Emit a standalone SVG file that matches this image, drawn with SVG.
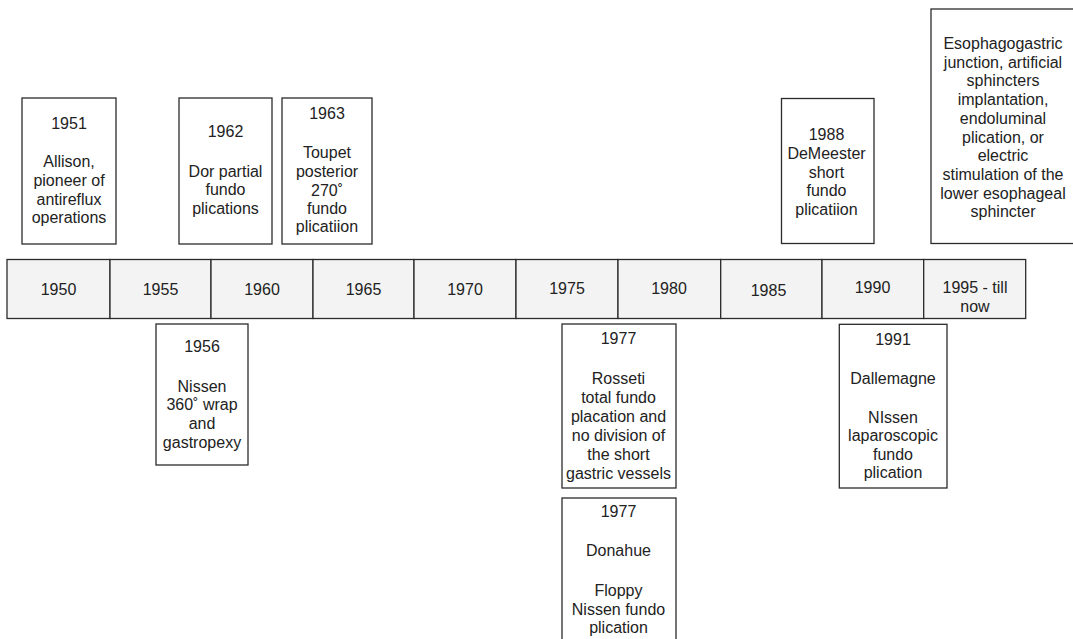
<svg xmlns="http://www.w3.org/2000/svg" width="1073" height="639" viewBox="0 0 1073 639">
  <style>
    .box { fill: #ffffff; stroke: #2b2b2b; stroke-width: 1.3; }
    .cell { fill: #f2f3f2; stroke: #2b2b2b; stroke-width: 1.3; }
    text { font-family: "Liberation Sans", Arial, Helvetica, sans-serif; font-size: 16px; fill: #222222; text-anchor: middle; }
  </style>
  <rect width="1073" height="639" fill="#ffffff"/>

  <!-- Timeline bar: ten five-year cells -->
  <g id="timeline">
    <g id="y1950"><rect class="cell" x="7" y="259.5" width="103" height="59"/><text x="58.5" y="294.5">1950</text></g>
    <g id="y1955"><rect class="cell" x="110" y="259.5" width="101" height="59"/><text x="160.5" y="294.5">1955</text></g>
    <g id="y1960"><rect class="cell" x="211" y="259.5" width="102" height="59"/><text x="262" y="294.5">1960</text></g>
    <g id="y1965"><rect class="cell" x="313" y="259.5" width="101" height="59"/><text x="363.5" y="294.5">1965</text></g>
    <g id="y1970"><rect class="cell" x="414" y="259.5" width="102" height="59"/><text x="465" y="294.5">1970</text></g>
    <g id="y1975"><rect class="cell" x="516" y="259.5" width="102" height="59"/><text x="567" y="294">1975</text></g>
    <g id="y1980"><rect class="cell" x="618" y="259.5" width="102.7" height="59"/><text x="669" y="293.5">1980</text></g>
    <g id="y1985"><rect class="cell" x="720.7" y="259.5" width="101.3" height="59"/><text x="768.5" y="295.5">1985</text></g>
    <g id="y1990"><rect class="cell" x="822" y="259.5" width="101.7" height="59"/><text x="872.5" y="293">1990</text></g>
    <g id="y1995"><rect class="cell" x="923.7" y="259.5" width="102" height="59"/><text x="975" y="293">1995 - till</text><text x="975" y="312">now</text></g>
  </g>

  <!-- Events above the bar -->
  <g id="e1951">
    <rect class="box" x="22" y="98" width="94" height="146"/>
    <text x="69" y="128.5">1951</text>
    <text x="69" y="167">Allison,</text>
    <text x="69" y="186">pioneer of</text>
    <text x="69" y="204.5">antireflux</text>
    <text x="69" y="223">operations</text>
  </g>
  <g id="e1962">
    <rect class="box" x="179" y="98" width="93" height="146"/>
    <text x="225.5" y="137">1962</text>
    <text x="225.5" y="176.5">Dor partial</text>
    <text x="225.5" y="195">fundo</text>
    <text x="225.5" y="214">plications</text>
  </g>
  <g id="e1963">
    <rect class="box" x="282" y="98" width="90" height="146"/>
    <text x="327" y="119.3">1963</text>
    <text x="327" y="158.3">Toupet</text>
    <text x="327" y="177">posterior</text>
    <text x="327" y="195.5">270˚</text>
    <text x="327" y="214">fundo</text>
    <text x="327" y="232">plicatiion</text>
  </g>
  <g id="e1988">
    <rect class="box" x="781.5" y="98.5" width="92.5" height="145"/>
    <text x="826.5" y="140">1988</text>
    <text x="826.5" y="159">DeMeester</text>
    <text x="826.5" y="177.5">short</text>
    <text x="826.5" y="196">fundo</text>
    <text x="826.5" y="214.5">plicatiion</text>
  </g>
  <g id="e1995">
    <rect class="box" x="931" y="9" width="145" height="234.5"/>
    <text x="1003" y="49">Esophagogastric</text>
    <text x="1003" y="67.7">junction, artificial</text>
    <text x="1003" y="86.4">sphincters</text>
    <text x="1003" y="105.1">implantation,</text>
    <text x="1003" y="123.8">endoluminal</text>
    <text x="1003" y="142.5">plication, or</text>
    <text x="1003" y="161.2">electric</text>
    <text x="1003" y="179.9">stimulation of the</text>
    <text x="1003" y="198.6">lower esophageal</text>
    <text x="1003" y="217.3">sphincter</text>
  </g>

  <!-- Events below the bar -->
  <g id="e1956">
    <rect class="box" x="156" y="324" width="92" height="141"/>
    <text x="202" y="352">1956</text>
    <text x="202" y="391.5">Nissen</text>
    <text x="202" y="410">360˚ wrap</text>
    <text x="202" y="429">and</text>
    <text x="202" y="447.5">gastropexy</text>
  </g>
  <g id="e1977a">
    <rect class="box" x="562" y="324" width="114" height="164"/>
    <text x="618.5" y="344.3">1977</text>
    <text x="618.5" y="384">Rosseti</text>
    <text x="618.5" y="403">total fundo</text>
    <text x="618.5" y="422">placation and</text>
    <text x="618.5" y="441">no division of</text>
    <text x="618.5" y="460">the short</text>
    <text x="618.5" y="479">gastric vessels</text>
  </g>
  <g id="e1977b">
    <rect class="box" x="562" y="498" width="114" height="145"/>
    <text x="618.5" y="517">1977</text>
    <text x="618.5" y="556">Donahue</text>
    <text x="618.5" y="595.5">Floppy</text>
    <text x="618.5" y="614.5">Nissen fundo</text>
    <text x="618.5" y="633">plication</text>
  </g>
  <g id="e1991">
    <rect class="box" x="839.3" y="324.3" width="107.7" height="163.7"/>
    <text x="893" y="344.5">1991</text>
    <text x="893" y="384">Dallemagne</text>
    <text x="893" y="422.5">NIssen</text>
    <text x="893" y="441">laparoscopic</text>
    <text x="893" y="459.5">fundo</text>
    <text x="893" y="478">plication</text>
  </g>
</svg>
